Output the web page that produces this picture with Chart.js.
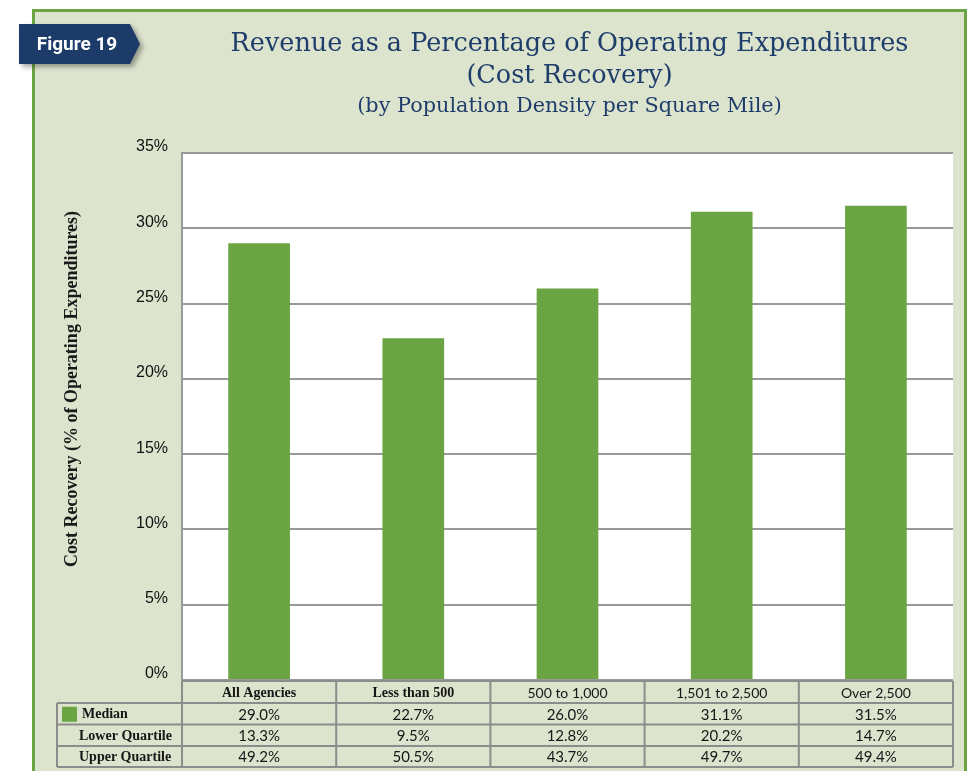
<!DOCTYPE html>
<html>
<head>
<meta charset="utf-8">
<script src="https://cdn.jsdelivr.net/npm/chart.js@4.4.1/dist/chart.umd.min.js"></script>
<style>
  html, body { margin: 0; padding: 0; background: #fff; }
  #wrap { width: 968px; height: 771px; }
</style>
</head>
<body>
<div id="wrap"><canvas id="chart" width="968" height="771"></canvas></div>
<script>
// data
const categories = ['All Agencies', 'Less than 500', '500 to 1,000', '1,501 to 2,500', 'Over 2,500'];
const medianValues = [29.0, 22.7, 26.0, 31.1, 31.5];
const lowerQuartile = [13.3, 9.5, 12.8, 20.2, 14.7];
const upperQuartile = [49.2, 50.5, 43.7, 49.7, 49.4];
const yTicks = [0, 5, 10, 15, 20, 25, 30, 35];
const titleLines = ['Revenue as a Percentage of Operating Expenditures', '(Cost Recovery)'];
const subtitle = '(by Population Density per Square Mile)';
const yTitle = 'Cost Recovery (% of Operating Expenditures)';
const figureTag = 'Figure 19';

const GREEN = '#6aa443';
const PANEL = '#dde4ce';
const NAVY = '#1c3b68';
const GRID = '#999999';

const fmt = v => v.toFixed(1) + '%';

// panel, figure tag, titles and white plot background
const backdrop = {
  id: 'backdrop',
  beforeDraw(chart) {
    const ctx = chart.ctx;
    const a = chart.chartArea;
    ctx.save();
    ctx.fillStyle = '#fff';
    ctx.fillRect(0, 0, chart.width, chart.height);
    ctx.fillStyle = PANEL;
    ctx.fillRect(33, 10, 933, chart.height);
    ctx.strokeStyle = GREEN;
    ctx.lineWidth = 3;
    ctx.beginPath();
    ctx.moveTo(33.5, chart.height);
    ctx.lineTo(33.5, 10.5);
    ctx.lineTo(965.5, 10.5);
    ctx.lineTo(965.5, chart.height);
    ctx.stroke();

    ctx.fillStyle = '#fff';
    ctx.fillRect(a.left, a.top, a.right - a.left, a.bottom - a.top);

    // figure tag
    ctx.save();
    ctx.shadowColor = 'rgba(0,0,0,0.35)';
    ctx.shadowBlur = 5;
    ctx.shadowOffsetX = 3;
    ctx.shadowOffsetY = 3;
    ctx.fillStyle = NAVY;
    ctx.beginPath();
    ctx.moveTo(19, 24);
    ctx.lineTo(130, 24);
    ctx.lineTo(140, 44);
    ctx.lineTo(130, 64);
    ctx.lineTo(19, 64);
    ctx.closePath();
    ctx.fill();
    ctx.restore();
    ctx.fillStyle = '#fff';
    ctx.font = 'bold 19px "Liberation Sans Narrow", Roboto, sans-serif';
    ctx.textAlign = 'center';
    ctx.textBaseline = 'middle';
    ctx.fillText(figureTag, 77, 45);

    // titles, centred over the plot
    const cx = (a.left + a.right) / 2 + 2;
    ctx.fillStyle = '#1f3d6b';
    ctx.font = '25.5px "DejaVu Serif", serif';
    ctx.fillText(titleLines[0], cx, 44);
    ctx.fillText(titleLines[1], cx, 76);
    ctx.font = '20.8px "DejaVu Serif", serif';
    ctx.fillText(subtitle, cx, 107);

    // y axis title
    ctx.save();
    ctx.translate(72, 389);
    ctx.rotate(-Math.PI / 2);
    ctx.fillStyle = '#1a1a1a';
    ctx.font = 'bold 18px "Liberation Serif", serif';
    ctx.fillText(yTitle, 0, 0);
    ctx.restore();
    ctx.restore();
  }
};

// data table under the plot, columns taken from the x scale
const dataTable = {
  id: 'dataTable',
  afterDraw(chart) {
    const ctx = chart.ctx;
    const xs = chart.scales.x;
    const a = chart.chartArea;
    const step = xs.getPixelForValue(1) - xs.getPixelForValue(0);
    const left = 57;
    const top = a.bottom + 1;
    const rowH = [22, 21.5, 21.5, 21];
    const ys = [top];
    rowH.forEach(h => ys.push(ys[ys.length - 1] + h));

    ctx.save();
    ctx.fillStyle = PANEL;
    ctx.fillRect(a.left, ys[0], a.right - a.left, ys[4] - ys[0]);
    ctx.fillRect(left, ys[1], a.left - left, ys[4] - ys[1]);

    ctx.strokeStyle = '#8c8c8c';
    ctx.lineWidth = 2;
    ctx.beginPath();
    // horizontal lines
    ctx.moveTo(a.left, ys[0]); ctx.lineTo(a.right, ys[0]);
    for (let r = 1; r <= 4; r++) {
      ctx.moveTo(left, ys[r]); ctx.lineTo(a.right, ys[r]);
    }
    // vertical lines
    ctx.moveTo(left, ys[1]); ctx.lineTo(left, ys[4]);
    categories.forEach((c, i) => {
      const x = xs.getPixelForValue(i) - step / 2;
      ctx.moveTo(x, ys[0]); ctx.lineTo(x, ys[4]);
    });
    ctx.moveTo(a.right, ys[0]); ctx.lineTo(a.right, ys[4]);
    ctx.stroke();

    ctx.textBaseline = 'middle';
    ctx.fillStyle = '#161616';
    const mid = r => (ys[r] + ys[r + 1]) / 2 + 1;

    // header row
    ctx.textAlign = 'center';
    categories.forEach((c, i) => {
      ctx.font = i < 2 ? 'bold 14px "Liberation Serif", serif' : '14px Lato, sans-serif';
      ctx.fillText(c, xs.getPixelForValue(i), mid(0));
    });

    // value rows
    const rows = [medianValues, lowerQuartile, upperQuartile];
    ctx.font = '15px Lato, sans-serif';
    rows.forEach((vals, r) => {
      vals.forEach((v, i) => ctx.fillText(fmt(v), xs.getPixelForValue(i), mid(r + 1)));
    });

    // row labels
    ctx.textAlign = 'left';
    ctx.font = 'bold 14px "Liberation Serif", serif';
    ctx.fillStyle = GREEN;
    ctx.fillRect(62, mid(1) - 8, 15, 15);
    ctx.fillStyle = '#161616';
    ctx.fillText('Median', 82, mid(1));
    ctx.fillText('Lower Quartile', 79, mid(2));
    ctx.fillText('Upper Quartile', 79, mid(3));
    ctx.restore();
  }
};

new Chart(document.getElementById('chart'), {
  type: 'bar',
  data: {
    labels: categories,
    datasets: [{
      label: 'Median',
      data: medianValues,
      backgroundColor: GREEN,
      borderWidth: 0,
      barPercentage: 0.4,
      categoryPercentage: 1.0
    }]
  },
  options: {
    responsive: false,
    devicePixelRatio: 1,
    animation: false,
    layout: { padding: { left: 0, top: 153, right: 15, bottom: 91 } },
    plugins: {
      legend: { display: false },
      title: { display: false },
      tooltip: { enabled: false }
    },
    scales: {
      x: { display: false },
      y: {
        min: 0,
        max: 35,
        afterBuildTicks: scale => { scale.ticks = yTicks.map(v => ({ value: v })); },
        afterFit: scale => { scale.width = 182; },
        grid: { color: GRID, lineWidth: 2, drawTicks: false },
        border: { display: true, color: GRID, width: 2 },
        ticks: {
          padding: 14,
          labelOffset: -6,
          color: '#111',
          font: { family: '"Liberation Sans", Arial, sans-serif', size: 16 },
          callback: v => v + '%'
        }
      }
    }
  },
  plugins: [backdrop, dataTable]
});
</script>
</body>
</html>
